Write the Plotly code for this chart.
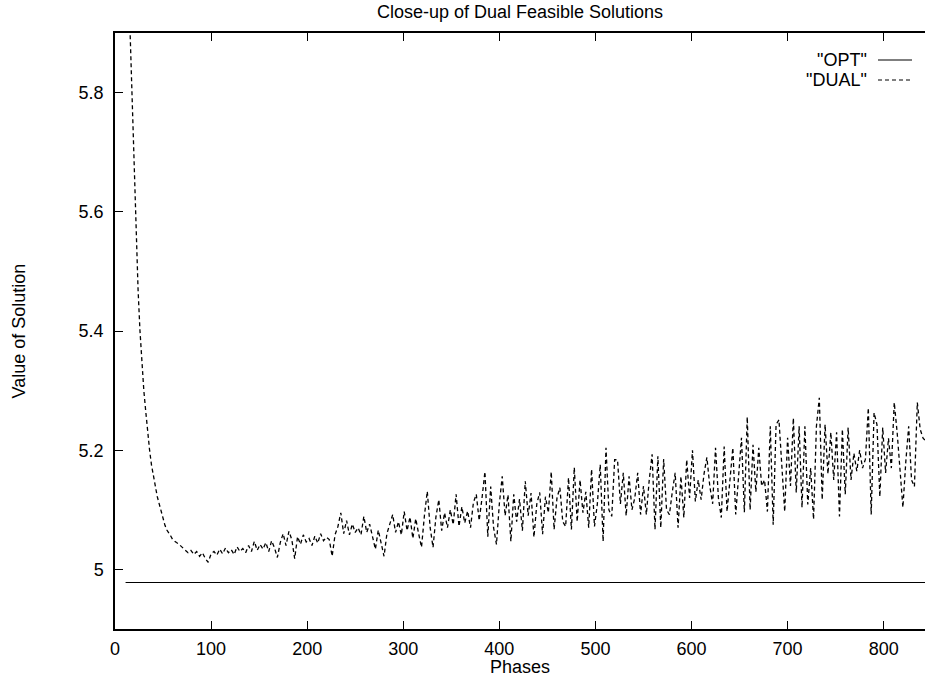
import plotly.graph_objects as go

# ---------------- data ----------------
title_text = "Close-up of Dual Feasible Solutions"
x_label = "Phases"
y_label = "Value of Solution"

x_ticks = [0, 100, 200, 300, 400, 500, 600, 700, 800]
y_tick_vals = [5.0, 5.2, 5.4, 5.6, 5.8]
y_tick_text = ["5", "5.2", "5.4", "5.6", "5.8"]

opt_phases = [11, 850]
opt_values = [4.978, 4.978]

# early descent of the dual bound
dual_phases_early = [14, 16, 18, 20, 22, 24, 26, 28, 30, 32, 34, 36, 38, 40, 42,
                     44, 46, 48, 50, 52, 54, 56, 58, 60, 62, 64, 66, 68, 70, 72, 74]
dual_values_early = [5.99, 5.88, 5.77, 5.65, 5.55, 5.47, 5.40, 5.34, 5.30, 5.265,
                     5.228, 5.20, 5.175, 5.155, 5.138, 5.122, 5.110, 5.097, 5.085,
                     5.074, 5.066, 5.062, 5.056, 5.050, 5.047, 5.045, 5.043, 5.040,
                     5.037, 5.034, 5.030]

# noisy part, every 3 phases from 76 to 844
dual_phases_noisy = list(range(76, 845, 3))
dual_values_noisy = [
    5.028, 5.032, 5.025, 5.030, 5.022, 5.028, 5.018, 5.012, 5.026, 5.030,   # 76-103
    5.024, 5.034, 5.026, 5.036, 5.028, 5.033, 5.025, 5.038, 5.030, 5.035,   # 106-133
    5.028, 5.040, 5.030, 5.047, 5.032, 5.042, 5.034, 5.045, 5.030, 5.048,   # 136-163
    5.036, 5.020, 5.045, 5.060, 5.040, 5.064, 5.050, 5.018, 5.055, 5.042,   # 166-193
    5.058, 5.046, 5.052, 5.040, 5.056, 5.044, 5.060, 5.048, 5.054, 5.050,   # 196-223
    5.022, 5.058, 5.072, 5.095, 5.060, 5.082, 5.058, 5.076, 5.062, 5.070,   # 226-253
    5.058, 5.089, 5.062, 5.076, 5.055, 5.034, 5.066, 5.045, 5.022, 5.060,   # 256-283
    5.075, 5.092, 5.062, 5.080, 5.058, 5.097, 5.065, 5.088, 5.052, 5.085,   # 286-313
    5.060, 5.037, 5.090, 5.131, 5.070, 5.037, 5.088, 5.117, 5.065, 5.095,   # 316-343
    5.070, 5.100, 5.075, 5.126, 5.072, 5.105, 5.078, 5.098, 5.070, 5.112,   # 346-373
    5.126, 5.082, 5.120, 5.164, 5.055, 5.139, 5.070, 5.042, 5.110, 5.156,   # 376-403
    5.090, 5.125, 5.047, 5.126, 5.080, 5.118, 5.065, 5.148, 5.090, 5.128,   # 406-433
    5.054, 5.110, 5.129, 5.059, 5.122, 5.095, 5.164, 5.067, 5.120, 5.137,   # 436-463
    5.080, 5.072, 5.154, 5.067, 5.171, 5.080, 5.150, 5.095, 5.130, 5.070,   # 466-493
    5.168, 5.072, 5.110, 5.176, 5.047, 5.204, 5.100, 5.089, 5.184, 5.184,   # 496-523
    5.110, 5.162, 5.090, 5.156, 5.100, 5.120, 5.162, 5.092, 5.140, 5.092,   # 526-553
    5.150, 5.193, 5.067, 5.190, 5.070, 5.185, 5.100, 5.092, 5.130, 5.162,   # 556-583
    5.070, 5.156, 5.087, 5.184, 5.120, 5.200, 5.114, 5.150, 5.117, 5.160,   # 586-613
    5.188, 5.140, 5.110, 5.204, 5.120, 5.087, 5.206, 5.097, 5.150, 5.204,   # 616-643
    5.092, 5.150, 5.221, 5.096, 5.256, 5.100, 5.209, 5.130, 5.204, 5.140,   # 646-673
    5.150, 5.097, 5.240, 5.075, 5.243, 5.251, 5.170, 5.097, 5.221, 5.140,   # 676-703
    5.254, 5.129, 5.240, 5.104, 5.240, 5.109, 5.170, 5.084, 5.240, 5.288,   # 706-733
    5.117, 5.243, 5.160, 5.230, 5.150, 5.230, 5.089, 5.235, 5.126, 5.238,   # 736-763
    5.150, 5.195, 5.165, 5.200, 5.170, 5.185, 5.271, 5.092, 5.263, 5.243,   # 766-793
    5.122, 5.238, 5.162, 5.220, 5.170, 5.280, 5.230, 5.160, 5.104, 5.180,   # 796-823
    5.240, 5.150, 5.139, 5.280, 5.235, 5.220, 5.215,                        # 826-844
]

dual_phases = dual_phases_early + dual_phases_noisy
dual_values = dual_values_early + dual_values_noisy

# ---------------- figure ----------------
FONT = "Liberation Sans, Arial, Helvetica, sans-serif"

fig = go.Figure()
fig.add_trace(go.Scatter(x=opt_phases, y=opt_values, mode="lines", name='"OPT"',
                         line=dict(color="#000000", width=1), showlegend=False))
fig.add_trace(go.Scatter(x=dual_phases, y=dual_values, mode="lines", name='"DUAL"',
                         line=dict(color="#000000", width=1.3, dash="4px,3px"),
                         showlegend=False))

# gnuplot-style key: label on the left, line sample on the right
W, H = 925, 677
L, T, B, R = 115, 33, 48, 0
pw, ph = W - L - R, H - T - B


def px(xp):
    return (xp - L) / pw


def py(yp):
    return (H - B - yp) / ph


legend_items = [('"OPT"', "solid", 60), ('"DUAL"', "4px,3px", 80)]
for label, dash, ypos in legend_items:
    fig.add_annotation(x=px(869), y=py(ypos), xref="paper", yref="paper",
                       text=label, showarrow=False, xanchor="right", yanchor="middle",
                       font=dict(family=FONT, size=18, color="#000"))
    fig.add_shape(type="line", xref="paper", yref="paper",
                  x0=px(878), x1=px(912), y0=py(ypos), y1=py(ypos),
                  line=dict(color="#000", width=1.2, dash=dash))

fig.update_layout(
    width=W, height=H,
    margin=dict(l=L, r=R, t=T, b=B, pad=0),
    paper_bgcolor="white", plot_bgcolor="white",
    font=dict(family=FONT, size=18, color="#000"),
    title=dict(text=title_text, x=0.5, xref="paper", y=1 - 12 / H, yref="container",
               xanchor="center", yanchor="middle",
               font=dict(family=FONT, size=18, color="#000")),
    showlegend=False,
)
fig.update_xaxes(
    range=[0, 843], tickvals=x_ticks, ticks="inside", ticklen=8, tickwidth=1,
    tickcolor="#000", showline=True, linecolor="#000", linewidth=1.5, mirror="ticks",
    showgrid=False, zeroline=False, ticklabelstandoff=3,
    tickfont=dict(family=FONT, size=18, color="#000"),
    title=dict(text=x_label, standoff=4, font=dict(family=FONT, size=18, color="#000")),
    automargin=False,
)
fig.update_yaxes(
    range=[4.9, 5.9], tickvals=y_tick_vals, ticktext=y_tick_text, ticks="inside",
    ticklen=8, tickwidth=1, tickcolor="#000", showline=True, linecolor="#000",
    linewidth=1.5, mirror=False, showgrid=False, zeroline=False, ticklabelstandoff=6,
    tickfont=dict(family=FONT, size=18, color="#000"),
    title=dict(text=y_label, standoff=48, font=dict(family=FONT, size=18, color="#000")),
    automargin=False,
)

fig.write_html("out.html",
               config={"displayModeBar": False},
               post_script="document.body.style.margin='0';"
                           "document.body.style.padding='0';")
